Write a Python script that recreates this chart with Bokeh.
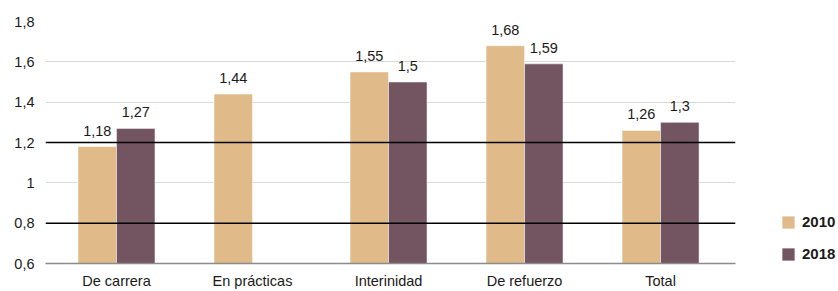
import numpy as np
from bokeh.plotting import figure
from bokeh.models import (ColumnDataSource, FixedTicker, LabelSet, Legend, LegendItem,
                          Span, Range1d)
from bokeh.core.properties import value
from bokeh.transform import dodge
from bokeh.embed import file_html
from bokeh.resources import INLINE

categories = ["De carrera", "En prácticas", "Interinidad", "De refuerzo", "Total"]
values_2010 = [1.18, 1.44, 1.55, 1.68, 1.26]
values_2018 = [1.27, np.nan, 1.50, 1.59, 1.30]
series_names = ["2010", "2018"]
y_ticks = [0.6, 0.8, 1.0, 1.2, 1.4, 1.6, 1.8]
y_tick_labels = ["0,6", "0,8", "1", "1,2", "1,4", "1,6", "1,8"]
ref_lines = [0.8, 1.2]

C2010 = "#E0BB89"
C2018 = "#735561"
FONT = "Liberation Sans"

def fmt(v):
    return ("%g" % v).replace(".", ",")

xs = list(range(len(categories)))
src10 = ColumnDataSource(dict(x=xs, y=values_2010, lab=[fmt(v) for v in values_2010]))
ok18 = [i for i, v in enumerate(values_2018) if not np.isnan(v)]
src18 = ColumnDataSource(dict(x=[xs[i] for i in ok18], y=[values_2018[i] for i in ok18],
                              lab=[fmt(values_2018[i]) for i in ok18]))

p = figure(frame_width=690, frame_height=242, output_backend="svg", toolbar_location=None,
           x_range=Range1d(-0.522, 4.551), y_range=Range1d(0.6, 1.8),
           min_border_left=45, min_border_right=103, min_border_top=21, min_border_bottom=20)
p.outline_line_color = None
p.background_fill_color = "white"
p.border_fill_color = "white"

bw = 0.283
off = bw / 2
r10 = p.vbar(x=dodge("x", -off, range=p.x_range), top="y", bottom=0.6, width=bw,
             source=src10, fill_color=C2010, line_color="white", line_width=0.5)
r18 = p.vbar(x=dodge("x", off, range=p.x_range), top="y", bottom=0.6, width=bw,
             source=src18, fill_color=C2018, line_color="white", line_width=0.5)

for src, o in ((src10, -off), (src18, off)):
    p.add_layout(LabelSet(x=dodge("x", o, range=p.x_range), y="y", text="lab", source=src,
                          text_align="center", text_baseline="alphabetic", y_offset=11,
                          text_font=value(FONT), text_font_size="14.5px",
                          text_color="#1a1a1a"))

for v in ref_lines:
    p.add_layout(Span(location=v, dimension="width", line_color="black", line_width=1.5))

p.xgrid.grid_line_color = None
p.ygrid.grid_line_color = "#D9D9D9"
p.ygrid.grid_line_width = 1.2
p.ygrid.ticker = FixedTicker(ticks=y_ticks)

p.xaxis.ticker = FixedTicker(ticks=xs)
p.xaxis.major_label_overrides = {i: c for i, c in enumerate(categories)}
p.xaxis.axis_line_color = "#8C8C8C"
p.xaxis.axis_line_width = 1.5
p.xaxis.major_tick_line_color = None
p.xaxis.minor_tick_line_color = None
p.xaxis.major_tick_in = 0
p.xaxis.major_tick_out = 0
p.xaxis.major_label_standoff = 9
p.xaxis.major_label_text_font = FONT
p.xaxis.major_label_text_font_size = "14.5px"
p.xaxis.major_label_text_color = "#1a1a1a"

p.yaxis.ticker = FixedTicker(ticks=y_ticks)
p.yaxis.major_label_overrides = {t: l for t, l in zip(y_ticks, y_tick_labels)}
p.yaxis.axis_line_color = None
p.yaxis.major_tick_line_color = None
p.yaxis.minor_tick_line_color = None
p.yaxis.major_tick_in = 0
p.yaxis.major_tick_out = 0
p.yaxis.major_label_standoff = 11
p.yaxis.major_label_text_font = FONT
p.yaxis.major_label_text_font_size = "14.5px"
p.yaxis.major_label_text_color = "#1a1a1a"

legend = Legend(items=[LegendItem(label=series_names[0], renderers=[r10]),
                       LegendItem(label=series_names[1], renderers=[r18])],
                location=(45, 1), orientation="vertical",
                glyph_width=16, glyph_height=16, label_height=16, spacing=15,
                label_standoff=6, padding=0, margin=0, border_line_color=None,
                background_fill_alpha=0,
                label_text_font=FONT, label_text_font_size="15px",
                label_text_font_style="bold", label_text_color="#1a1a1a")
p.add_layout(legend, "right")

open("out.html", "w").write(file_html(p, INLINE))
